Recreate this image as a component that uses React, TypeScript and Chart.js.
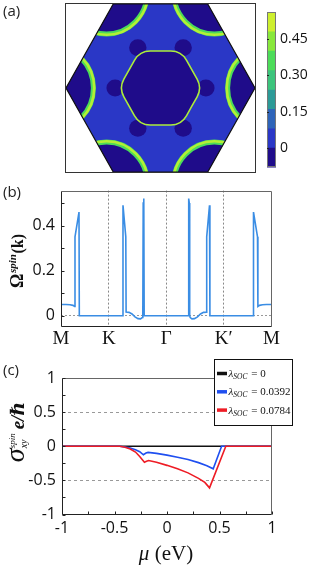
import React, { useEffect, useRef } from 'react';
import { Chart, registerables } from 'chart.js';
Chart.register(...registerables);

// ---------------- Panel (a): spin Berry curvature map over the Brillouin zone ----------------
const HEX_X = [1, 0.5, -0.5, -1, -0.5, 0.5, 1];
const HEX_Y = [0, 0.866, 0.866, 0, -0.866, -0.866, 0];
const K_RING_SCALE = 1.14; // ring centre, in units of the K vertex
const K_RING_RADIUS = 0.43;
const BLOB_SCALE = 0.48;
const BLOB_RADIUS = 0.092;
const CORE_SCALE = 0.44;
const CORE_ROUND = 0.19;

const CB_EDGES = [-0.08, 0, 0.08, 0.16, 0.24, 0.32, 0.4, 0.48, 0.56];
const CB_COLORS = ['#1f0c8a', '#2a37c6', '#2e64b9', '#2c9a97', '#3cc47c', '#4cdc59', '#88e83b', '#cdef2e'];
const CB_TICKS = [0, 0.15, 0.3, 0.45];
const CB_LABELS = ['0', '0.15', '0.30', '0.45'];

// ---------------- Panel (b): Omega^spin(k) along M-K-Γ-K'-M ----------------
const PATH_POS = [0, 0.227, 0.5, 0.773, 1];
const PATH_LABELS = ['M', 'K', 'Γ', 'K′', 'M'];
const OMEGA_K = [
  0, 0.0238, 0.0428, 0.057, 0.0646, 0.0665, 0.0855, 0.087,
  0.2926, 0.2945, 0.3078, 0.3093, 0.323, 0.3373, 0.3515, 0.3658, 0.3777, 0.3862, 0.3886, 0.3905, 0.3933, 0.3952,
  0.6048, 0.6067, 0.6095, 0.6114, 0.6138, 0.6223, 0.6342, 0.6485, 0.6627, 0.677, 0.6907, 0.6922, 0.7055, 0.7074,
  0.913, 0.9145, 0.9335, 0.9354, 0.943, 0.9572, 0.9762, 1,
];
const OMEGA_VAL = [
  0.05, 0.05, 0.049, 0.046, 0.041, 0.35, 0.46, 0,
  0, 0.49, 0.35, 0.016, 0.015, 0.008, -0.005, -0.013, -0.014, -0.008, 0, 0.5, 0.52, 0,
  0, 0.52, 0.5, 0, -0.008, -0.014, -0.013, -0.005, 0.008, 0.015, 0.016, 0.35, 0.49, 0,
  0, 0.46, 0.35, 0.041, 0.046, 0.049, 0.05, 0.05,
];
const OMEGA_TICKS = [0, 0.1, 0.2, 0.3, 0.4, 0.5];
const OMEGA_LABELS = ['0', '', '0.2', '', '0.4', ''];

// ---------------- Panel (c): spin Hall conductivity vs chemical potential ----------------
const MU_TICKS = [-1, -0.75, -0.5, -0.25, 0, 0.25, 0.5, 0.75, 1];
const MU_LABELS = ['-1', '', '-0.5', '', '0', '', '0.5', '', '1'];
const SIG_TICKS = [-1, -0.75, -0.5, -0.25, 0, 0.25, 0.5, 0.75, 1];
const SIG_LABELS = ['-1', '', '-0.5', '', '0', '', '0.5', '', '1'];
const SOC_VALUES = ['0', '0.0392', '0.0784'];
const SOC_COLORS = ['#111111', '#1f4ff0', '#ee1c25'];

const MU_A = [-1, 1];
const SIG_A = [0, 0];
const MU_B = [-1, -0.45, -0.4, -0.35, -0.3, -0.26, -0.225, -0.2, -0.18, -0.1, 0, 0.1, 0.2, 0.3, 0.38, 0.44, 0.52, 1];
const SIG_B = [0, 0, -0.01, -0.025, -0.05, -0.08, -0.125, -0.1, -0.09, -0.105, -0.13, -0.16, -0.195, -0.24, -0.285, -0.33, 0, 0];
const MU_C = [-1, -0.45, -0.4, -0.35, -0.3, -0.26, -0.215, -0.195, -0.175, -0.1, 0, 0.1, 0.2, 0.3, 0.36, 0.405, 0.56, 1];
const SIG_C = [0, 0, -0.015, -0.04, -0.085, -0.15, -0.235, -0.22, -0.21, -0.235, -0.28, -0.33, -0.39, -0.47, -0.53, -0.61, 0, 0];

const SANS = '"Open Sans", "DejaVu Sans", sans-serif';
const TICK_FONT = { family: SANS, size: 16 };
const SERIF = '"Liberation Serif", "DejaVu Serif", serif';

const pairs = (xs: number[], ys: number[]) => xs.map((x, i) => ({ x, y: ys[i] }));

function framePlugin(opts: { yTicks: boolean; xTicks: boolean }) {
  return {
    id: 'frame',
    afterDatasetsDraw(chart: any) {
      const { ctx, chartArea: a, scales } = chart;
      const L = Math.round(a.left) + 0.5, R = Math.round(a.right) - 0.5;
      const T = Math.round(a.top) + 0.5, B = Math.round(a.bottom) - 0.5;
      ctx.save();
      ctx.lineWidth = 1;
      ctx.strokeStyle = '#666';
      ctx.beginPath(); ctx.moveTo(L, T); ctx.lineTo(R, T); ctx.lineTo(R, B); ctx.stroke();
      ctx.strokeStyle = '#222';
      ctx.beginPath(); ctx.moveTo(L, T); ctx.lineTo(L, B); ctx.lineTo(R, B); ctx.stroke();
      if (opts.yTicks) {
        scales.y.ticks.forEach((t: any) => {
          const y = Math.round(scales.y.getPixelForValue(t.value)) + 0.5;
          ctx.beginPath(); ctx.moveTo(L, y); ctx.lineTo(L + 3, y); ctx.stroke();
        });
      }
      if (opts.xTicks) {
        scales.x.ticks.forEach((t: any) => {
          const x = Math.round(scales.x.getPixelForValue(t.value)) + 0.5;
          ctx.beginPath(); ctx.moveTo(x, B); ctx.lineTo(x, B - 3); ctx.stroke();
        });
      }
      ctx.restore();
    },
  };
}

// rotated y-axis title made of pieces
type Piece = { t: string; f: string; dy: number; adv: boolean; gap?: number };
function yTitlePlugin(cx: number, cy: number, pieces: Piece[]) {
  return {
    id: 'ytitle',
    afterDraw(chart: any) {
      const { ctx } = chart;
      ctx.save();
      let total = 0;
      let pend = 0;
      pieces.forEach((p) => {
        ctx.font = p.f;
        pend = Math.max(pend, ctx.measureText(p.t).width);
        if (p.adv) { total += pend + (p.gap || 0); pend = 0; }
      });
      total += pend;
      ctx.translate(cx, cy);
      ctx.rotate(-Math.PI / 2);
      ctx.fillStyle = '#111';
      ctx.textBaseline = 'alphabetic';
      ctx.textAlign = 'left';
      let x = -total / 2;
      pend = 0;
      pieces.forEach((p) => {
        ctx.font = p.f;
        ctx.fillText(p.t, x, 6 - p.dy);
        pend = Math.max(pend, ctx.measureText(p.t).width);
        if (p.adv) { x += pend + (p.gap || 0); pend = 0; }
      });
      ctx.restore();
    },
  };
}

const bzPlugin = {
  id: 'bz',
  beforeDatasetsDraw(chart: any) {
    const { ctx, chartArea: a, scales } = chart;
    const px = (v: number) => scales.x.getPixelForValue(v);
    const py = (v: number) => scales.y.getPixelForValue(v);
    const ux = px(1) - px(0);
    const uy = py(0) - py(1);
    ctx.save();
    ctx.fillStyle = '#fff';
    ctx.fillRect(a.left, a.top, a.width, a.height);
    ctx.beginPath();
    for (let i = 0; i < 6; i++) {
      const X = px(HEX_X[i]), Y = py(HEX_Y[i]);
      if (i) ctx.lineTo(X, Y); else ctx.moveTo(X, Y);
    }
    ctx.closePath();
    ctx.fillStyle = CB_COLORS[1];
    ctx.fill();
    ctx.clip();
    for (let i = 0; i < 6; i++) {
      const cx = px(HEX_X[i] * K_RING_SCALE), cy = py(HEX_Y[i] * K_RING_SCALE);
      ctx.beginPath();
      ctx.ellipse(cx, cy, K_RING_RADIUS * ux, K_RING_RADIUS * uy, 0, 0, Math.PI * 2);
      ctx.fillStyle = CB_COLORS[0];
      ctx.fill();
      ctx.lineWidth = 5;
      ctx.strokeStyle = CB_COLORS[5];
      ctx.stroke();
      ctx.beginPath();
      ctx.ellipse(cx, cy, K_RING_RADIUS * ux + 0.8, K_RING_RADIUS * uy + 0.8, 0, 0, Math.PI * 2);
      ctx.lineWidth = 2.6;
      ctx.strokeStyle = '#b4ef36';
      ctx.stroke();
    }
    const pts = [0, 1, 2, 3, 4, 5].map((i) => [px(HEX_X[i] * CORE_SCALE), py(HEX_Y[i] * CORE_SCALE)]);
    const r = CORE_ROUND * ux;
    const corePath = () => {
      ctx.beginPath();
      ctx.moveTo((pts[5][0] + pts[0][0]) / 2, (pts[5][1] + pts[0][1]) / 2);
      for (let i = 0; i < 6; i++) {
        const p = pts[i], q = pts[(i + 1) % 6];
        ctx.arcTo(p[0], p[1], q[0], q[1], r);
      }
      ctx.closePath();
    };
    corePath();
    ctx.fillStyle = CB_COLORS[0];
    ctx.fill();
    ctx.fillStyle = CB_COLORS[0];
    for (let i = 0; i < 6; i++) {
      ctx.beginPath();
      ctx.ellipse(px(HEX_X[i] * BLOB_SCALE), py(HEX_Y[i] * BLOB_SCALE), BLOB_RADIUS * ux, BLOB_RADIUS * uy * 0.95, 0, 0, Math.PI * 2);
      ctx.fill();
    }
    corePath();
    ctx.lineWidth = 1.6;
    ctx.strokeStyle = '#acec3a';
    ctx.stroke();
    ctx.restore();
  },
  afterDraw(chart: any) {
    const { ctx, chartArea: a } = chart;
    ctx.save();
    ctx.strokeStyle = '#333';
    ctx.lineWidth = 1;
    ctx.strokeRect(Math.round(a.left) + 0.5, Math.round(a.top) - 0.5, Math.round(a.width) - 1, Math.round(a.height) + 1);
    ctx.restore();
  },
};

const cbFramePlugin = {
  id: 'cbframe',
  afterDraw(chart: any) {
    const { ctx, chartArea: a, scales } = chart;
    ctx.save();
    ctx.strokeStyle = '#777';
    ctx.lineWidth = 1;
    ctx.strokeRect(Math.round(a.left) + 0.5, Math.round(a.top) + 0.5, Math.round(a.width) - 1, Math.round(a.height) - 1);
    ctx.strokeStyle = '#222';
    scales.y.ticks.forEach((t: any) => {
      const y = Math.round(scales.y.getPixelForValue(t.value)) + 0.5;
      ctx.beginPath(); ctx.moveTo(a.left, y); ctx.lineTo(a.left + 2, y); ctx.stroke();
    });
    ctx.restore();
  },
};

const legendPlugin = {
  id: 'soclegend',
  afterDraw(chart: any) {
    const { ctx } = chart;
    const left = 214.5, top = 9.5, w = 78, h = 66;
    ctx.save();
    ctx.fillStyle = '#fff';
    ctx.fillRect(left, top, w, h);
    ctx.strokeStyle = '#111';
    ctx.lineWidth = 1;
    ctx.strokeRect(left, top, w, h);
    chart.data.datasets.forEach((ds: any) => {
      const row = SOC_VALUES.indexOf(ds.label);
      const yc = top + 14 + row * 18.3;
      ctx.strokeStyle = ds.borderColor;
      ctx.lineWidth = 3.5;
      ctx.beginPath(); ctx.moveTo(left + 2.5, yc); ctx.lineTo(left + 12.5, yc); ctx.stroke();
      ctx.fillStyle = '#111';
      ctx.textBaseline = 'alphabetic';
      let x = left + 14;
      const base = yc + 3.5;
      ctx.font = `italic 11px ${SERIF}`;
      ctx.fillText('λ', x, base);
      x += ctx.measureText('λ').width;
      ctx.font = `italic 7.5px ${SERIF}`;
      ctx.fillText('SOC', x, base + 2);
      x += ctx.measureText('SOC').width + 1;
      ctx.font = `11px ${SERIF}`;
      ctx.fillText(' = ' + ds.label, x, base);
    });
    ctx.restore();
  },
};

export default function App() {
  const aRef = useRef<HTMLCanvasElement>(null);
  const cbRef = useRef<HTMLCanvasElement>(null);
  const bRef = useRef<HTMLCanvasElement>(null);
  const cRef = useRef<HTMLCanvasElement>(null);

  useEffect(() => {
    const charts: Chart[] = [];
    charts.push(
      new Chart(aRef.current as HTMLCanvasElement, {
        type: 'scatter',
        data: {
          datasets: [
            { data: pairs(HEX_X, HEX_Y), showLine: true, borderColor: '#111', borderWidth: 1.2, pointRadius: 0, fill: false } as any,
          ],
        },
        options: {
          responsive: false,
          animation: false,
          devicePixelRatio: 1,
          layout: { padding: { left: 65, top: 4, right: 4, bottom: 8 } },
          scales: {
            x: { type: 'linear', display: false, min: -1.0106, max: 1.0106 },
            y: { type: 'linear', display: false, min: -0.866, max: 0.866 },
          },
          plugins: { legend: { display: false }, tooltip: { enabled: false } },
        },
        plugins: [bzPlugin],
      })
    );

    charts.push(
      new Chart(cbRef.current as HTMLCanvasElement, {
        type: 'bar',
        data: {
          labels: ['Ω'],
          datasets: CB_COLORS.map((c, i) => ({
            data: [[CB_EDGES[i], CB_EDGES[i + 1]]],
            backgroundColor: c,
            borderWidth: 0,
            grouped: false,
            barPercentage: 1,
            categoryPercentage: 1,
          })) as any,
        },
        options: {
          responsive: false,
          animation: false,
          devicePixelRatio: 1,
          layout: { padding: { left: 7, top: 4, bottom: 7, right: 0 } },
          scales: {
            x: { display: false },
            y: {
              position: 'right',
              min: CB_EDGES[0],
              max: CB_EDGES[CB_EDGES.length - 1],
              afterBuildTicks: (s: any) => { s.ticks = CB_TICKS.map((v) => ({ value: v })); },
              afterFit: (s: any) => { s.width = 34; },
              ticks: {
                callback: (_v: any, i: number) => CB_LABELS[i],
                font: { family: SANS, size: 14 },
                color: '#111',
                padding: 4,
              },
              grid: { display: false, drawTicks: false },
              border: { display: false },
            },
          },
          plugins: { legend: { display: false }, tooltip: { enabled: false } },
        },
        plugins: [cbFramePlugin],
      })
    );

    charts.push(
      new Chart(bRef.current as HTMLCanvasElement, {
        type: 'line',
        data: {
          datasets: [
            {
              data: pairs(OMEGA_K, OMEGA_VAL),
              borderColor: '#3a8de4',
              borderWidth: 1.6,
              pointRadius: 0,
              tension: 0,
              fill: false,
            },
          ],
        },
        options: {
          responsive: false,
          animation: false,
          devicePixelRatio: 1,
          layout: { padding: { top: 15, right: 38.5, left: 0, bottom: 0 } },
          scales: {
            x: {
              type: 'linear',
              min: 0,
              max: 1,
              afterBuildTicks: (s: any) => { s.ticks = PATH_POS.map((v) => ({ value: v })); },
              afterFit: (s: any) => { s.height = 23; },
              ticks: {
                callback: (_v: any, i: number) => PATH_LABELS[i],
                font: { family: SERIF, size: 19 },
                color: '#111',
                padding: 1,
                maxRotation: 0,
                autoSkip: false,
              },
              grid: {
                drawTicks: false,
                color: (c: any) => (c.index > 0 && c.index < PATH_POS.length - 1 ? '#888' : 'rgba(0,0,0,0)'),
                lineWidth: 1,
              },
              border: { display: false, dash: [2, 2] },
            },
            y: {
              type: 'linear',
              min: -0.05,
              max: 0.555,
              afterBuildTicks: (s: any) => { s.ticks = OMEGA_TICKS.map((v) => ({ value: v })); },
              afterFit: (s: any) => { s.width = 61; },
              ticks: {
                callback: (_v: any, i: number) => OMEGA_LABELS[i],
                font: TICK_FONT,
                color: '#111',
                padding: 6,
              },
              grid: {
                drawTicks: false,
                color: (c: any) => (c.tick && c.tick.value === 0 ? '#999' : 'rgba(0,0,0,0)'),
                lineWidth: 1,
              },
              border: { display: false, dash: [2, 2] },
            },
          },
          plugins: { legend: { display: false }, tooltip: { enabled: false } },
        },
        plugins: [
          framePlugin({ yTicks: true, xTicks: false }),
          yTitlePlugin(17, 86, [
            { t: 'Ω', f: `bold 18px ${SERIF}`, dy: 0, adv: true, gap: 0.5 },
            { t: 'spin', f: `bold italic 11px ${SERIF}`, dy: 7, adv: true, gap: 0.5 },
            { t: '(', f: `bold 16px ${SERIF}`, dy: 0, adv: true },
            { t: 'k', f: `bold 16px ${SERIF}`, dy: 0, adv: true },
            { t: ')', f: `bold 16px ${SERIF}`, dy: 0, adv: true },
          ]),
        ],
      })
    );

    charts.push(
      new Chart(cRef.current as HTMLCanvasElement, {
        type: 'line',
        data: {
          datasets: [
            { label: SOC_VALUES[0], data: pairs(MU_A, SIG_A), borderColor: SOC_COLORS[0], borderWidth: 1.5, pointRadius: 0, tension: 0, order: 3 },
            { label: SOC_VALUES[1], data: pairs(MU_B, SIG_B), borderColor: SOC_COLORS[1], borderWidth: 1.6, pointRadius: 0, tension: 0, order: 2 },
            { label: SOC_VALUES[2], data: pairs(MU_C, SIG_C), borderColor: SOC_COLORS[2], borderWidth: 1.6, pointRadius: 0, tension: 0, order: 1 },
          ],
        },
        options: {
          responsive: false,
          animation: false,
          devicePixelRatio: 1,
          layout: { padding: { top: 28, right: 38, left: 0, bottom: 0 } },
          scales: {
            x: {
              type: 'linear',
              min: -1,
              max: 1,
              afterBuildTicks: (s: any) => { s.ticks = MU_TICKS.map((v) => ({ value: v })); },
              afterFit: (s: any) => { s.height = 50.5; },
              ticks: {
                callback: (_v: any, i: number) => MU_LABELS[i],
                font: TICK_FONT,
                color: '#111',
                padding: 4,
                maxRotation: 0,
                autoSkip: false,
              },
              grid: { display: false, drawTicks: false },
              border: { display: false },
            },
            y: {
              type: 'linear',
              min: -1,
              max: 1,
              afterBuildTicks: (s: any) => { s.ticks = SIG_TICKS.map((v) => ({ value: v })); },
              afterFit: (s: any) => { s.width = 62; },
              ticks: {
                callback: (_v: any, i: number) => SIG_LABELS[i],
                font: TICK_FONT,
                color: '#111',
                padding: 6,
                autoSkip: false,
              },
              grid: {
                drawTicks: false,
                color: (c: any) => (c.tick && Math.abs(c.tick.value) === 0.5 ? '#999' : 'rgba(0,0,0,0)'),
                lineWidth: 1,
              },
              border: { display: false, dash: [3, 3] },
            },
          },
          plugins: { legend: { display: false }, tooltip: { enabled: false } },
        },
        plugins: [
          framePlugin({ yTicks: true, xTicks: true }),
          legendPlugin,
          yTitlePlugin(18, 82, [
            { t: 'σ', f: `italic 28px ${SERIF}`, dy: 0, adv: true, gap: 0 },
            { t: 'spin', f: `italic 9px ${SERIF}`, dy: 9, adv: false },
            { t: 'xy', f: `italic 10px ${SERIF}`, dy: -3, adv: true, gap: 4 },
            { t: 'e/ℏ', f: `bold italic 19px ${SERIF}`, dy: 0, adv: true },
          ]),
        ],
      })
    );

    return () => charts.forEach((c) => c.destroy());
  }, []);

  const abs = (l: number, t: number): React.CSSProperties => ({ position: 'absolute', left: l, top: t });
  const panelLabel: React.CSSProperties = { fontFamily: SANS, fontSize: 15, color: '#222', lineHeight: 1 };

  return (
    <div style={{ position: 'fixed', left: 0, top: 0, width: 310, height: 565, background: '#fff', overflow: 'hidden' }}>
      <canvas ref={aRef} width={260} height={180} style={{ ...abs(0, 0), width: 260, height: 180 }} />
      <canvas ref={cbRef} width={50} height={180} style={{ ...abs(260, 0), width: 50, height: 180 }} />
      <canvas ref={bRef} width={310} height={175} style={{ ...abs(0, 175), width: 310, height: 175 }} />
      <canvas ref={cRef} width={310} height={215} style={{ ...abs(0, 350), width: 310, height: 215 }} />

      <div style={{ ...abs(3, 3), ...panelLabel }}>(a)</div>
      <div style={{ ...abs(3, 184), ...panelLabel }}>(b)</div>
      <div style={{ ...abs(3, 362), ...panelLabel }}>(c)</div>

      <div style={{ position: 'absolute', left: 166, top: 553, transform: 'translate(-50%, -50%)', whiteSpace: 'nowrap', fontFamily: SERIF, fontSize: 21, color: '#111', lineHeight: 1 }}>
        <i>μ</i> (eV)
      </div>
    </div>
  );
}
